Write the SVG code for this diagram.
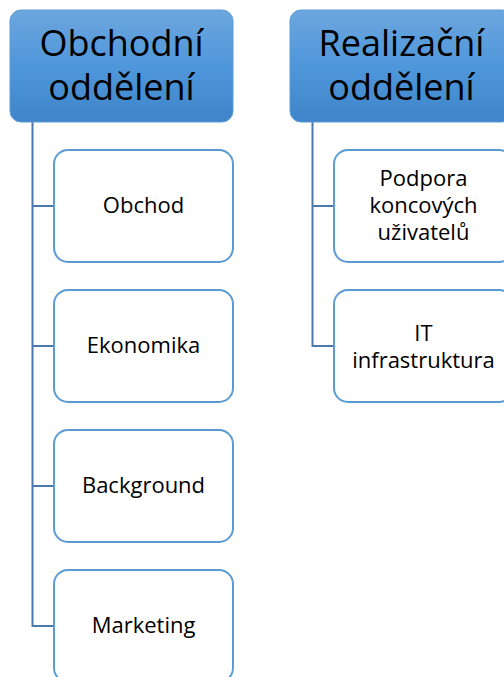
<svg xmlns="http://www.w3.org/2000/svg" width="504" height="677" viewBox="0 0 504 677">
<defs>
<linearGradient id="hg" x1="0" y1="0" x2="0" y2="1">
<stop offset="0" stop-color="#6da6de"/>
<stop offset="0.5" stop-color="#4f97db"/>
<stop offset="1" stop-color="#3f84c8"/>
</linearGradient>
<style>
.hdr{fill:url(#hg);stroke:#5d9bd6;stroke-width:1}
.box{fill:#ffffff;stroke:#5b9bd5;stroke-width:2}
.con{fill:none;stroke:#4a78b0;stroke-width:2}
.ht{font-family:"Open Sans","Liberation Sans",sans-serif;font-size:36px;fill:#000;text-anchor:middle}
.ct{font-family:"Open Sans","Liberation Sans",sans-serif;font-size:22px;fill:#000;text-anchor:middle}
</style>
</defs>
<g id="connectors">
<path class="con" d="M32.5,122 V626 H54"/>
<path class="con" d="M32.5,206 H54"/>
<path class="con" d="M32.5,346 H54"/>
<path class="con" d="M32.5,486 H54"/>
<path class="con" d="M312.5,122 V346 H334"/>
<path class="con" d="M312.5,206 H334"/>
</g>
<g id="obchodni">
<rect class="hdr" x="10" y="10" width="223" height="112" rx="11"/>
<text class="ht" x="121.5" y="56">Obchodní</text>
<text class="ht" x="121.5" y="100">oddělení</text>
</g>
<g id="realizacni">
<rect class="hdr" x="290" y="10" width="223" height="112" rx="11"/>
<text class="ht" x="401.5" y="56">Realizační</text>
<text class="ht" x="401.5" y="100">oddělení</text>
</g>
<g id="obchod">
<rect class="box" x="54" y="150" width="179" height="112" rx="14"/>
<text class="ct" x="143.5" y="213">Obchod</text>
</g>
<g id="ekonomika">
<rect class="box" x="54" y="290" width="179" height="112" rx="14"/>
<text class="ct" x="143.5" y="353">Ekonomika</text>
</g>
<g id="background">
<rect class="box" x="54" y="430" width="179" height="112" rx="14"/>
<text class="ct" x="143.5" y="493">Background</text>
</g>
<g id="marketing">
<rect class="box" x="54" y="570" width="179" height="112" rx="14"/>
<text class="ct" x="143.5" y="633">Marketing</text>
</g>
<g id="podpora">
<rect class="box" x="334" y="150" width="179" height="112" rx="14"/>
<text class="ct" x="423.5" y="186">Podpora</text>
<text class="ct" x="423.5" y="213">koncových</text>
<text class="ct" x="423.5" y="240">uživatelů</text>
</g>
<g id="it">
<rect class="box" x="334" y="290" width="179" height="112" rx="14"/>
<text class="ct" x="423.5" y="341">IT</text>
<text class="ct" x="423.5" y="368">infrastruktura</text>
</g>
</svg>
